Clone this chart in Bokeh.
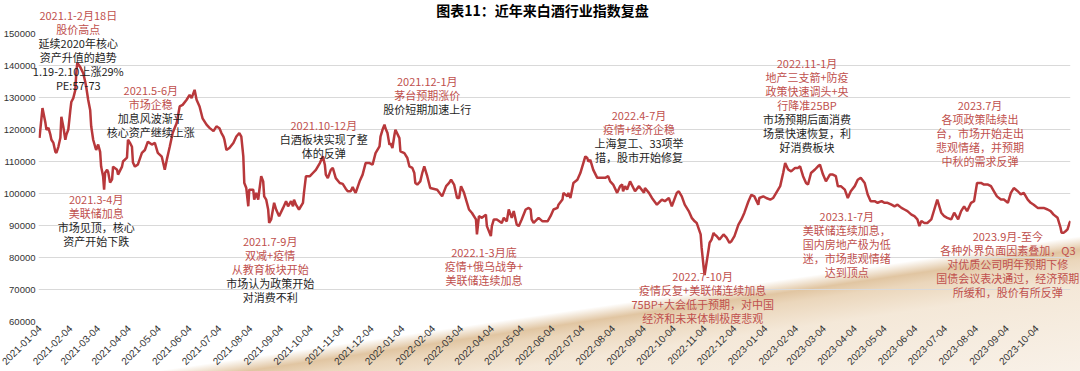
import math
import pandas as pd
from bokeh.plotting import figure
from bokeh.models import (Range1d, FixedTicker, DatetimeTickFormatter,
                          BasicTickFormatter, ColumnDataSource)
from bokeh.core.properties import value
from bokeh.embed import file_html
from bokeh.resources import INLINE

# ---------------- data ----------------
dates_2021 = [
    "2021-01-04", "2021-01-07", "2021-01-10", "2021-01-11", "2021-01-13", "2021-01-15", "2021-01-16", "2021-01-18",
    "2021-01-20", "2021-01-21", "2021-01-23", "2021-01-25", "2021-01-26", "2021-01-28", "2021-01-30", "2021-01-31",
    "2021-02-02", "2021-02-04", "2021-02-05", "2021-02-07", "2021-02-09", "2021-02-10", "2021-02-11", "2021-02-14",
    "2021-02-17", "2021-02-19", "2021-02-20", "2021-02-22", "2021-02-24", "2021-02-25", "2021-02-27",
    "2021-03-01", "2021-03-02", "2021-03-04", "2021-03-06", "2021-03-07", "2021-03-09", "2021-03-10", "2021-03-11",
    "2021-03-13", "2021-03-14", "2021-03-16", "2021-03-18", "2021-03-19", "2021-03-23", "2021-03-24", "2021-03-28",
    "2021-03-29",
    "2021-04-02", "2021-04-03", "2021-04-05", "2021-04-07", "2021-04-08", "2021-04-10", "2021-04-13", "2021-04-17",
    "2021-04-20", "2021-04-23", "2021-04-27", "2021-04-30",
    "2021-05-03", "2021-05-07", "2021-05-10", "2021-05-12", "2021-05-15", "2021-05-18", "2021-05-22", "2021-05-25",
    "2021-05-28",
    "2021-06-01", "2021-06-04", "2021-06-06", "2021-06-09", "2021-06-11", "2021-06-14", "2021-06-17", "2021-06-21",
    "2021-06-24", "2021-06-28",
    "2021-07-01", "2021-07-04", "2021-07-06", "2021-07-08", "2021-07-09", "2021-07-11", "2021-07-14", "2021-07-18",
    "2021-07-21", "2021-07-24", "2021-07-26", "2021-07-28", "2021-07-29", "2021-07-31",
    "2021-08-02", "2021-08-03", "2021-08-07", "2021-08-08", "2021-08-10", "2021-08-12", "2021-08-13", "2021-08-15",
    "2021-08-17", "2021-08-18", "2021-08-20", "2021-08-22", "2021-08-23", "2021-08-25", "2021-08-28", "2021-08-30",
    "2021-09-02", "2021-09-06", "2021-09-09", "2021-09-11", "2021-09-14", "2021-09-16", "2021-09-17", "2021-09-19",
    "2021-09-22", "2021-09-26", "2021-09-27", "2021-09-29",
    "2021-10-03", "2021-10-06", "2021-10-09", "2021-10-13", "2021-10-16", "2021-10-18", "2021-10-19", "2021-10-21",
    "2021-10-24", "2021-10-26", "2021-10-29",
    "2021-11-02", "2021-11-05", "2021-11-08", "2021-11-10", "2021-11-13", "2021-11-15", "2021-11-17", "2021-11-18",
    "2021-11-22", "2021-11-25", "2021-11-28",
    "2021-12-02", "2021-12-05", "2021-12-08", "2021-12-12", "2021-12-13", "2021-12-15", "2021-12-17", "2021-12-18",
    "2021-12-20", "2021-12-22", "2021-12-23", "2021-12-25", "2021-12-27", "2021-12-28",
]
values_2021 = [
    117400, 126700, 122000, 119900, 120500, 118300, 116800, 115800,
    113000, 112700, 114600, 117400, 124000, 120800, 116800, 118300,
    120000, 126000, 128600, 129800, 132300, 137600, 140800, 139500,
    137600, 134900, 133300, 129200, 126000, 121000, 116800,
    114600, 113600, 115300, 113000, 108400, 105300, 101200, 106500,
    107400, 106800, 103400, 104400, 108400, 107400, 105900, 108400,
    110000,
    111200, 116800, 115800, 114600, 109700, 108400, 109100, 112700,
    113600, 116200, 115300, 115800,
    112700, 111500, 107400, 110500, 114600, 119000, 122000, 127200,
    127700,
    129300, 130800, 129800, 132400, 129300, 127200, 123500, 121500,
    120500, 119500,
    121000, 120400, 118900, 117800, 116800, 113600, 114200, 115800,
    117800, 118900, 117800, 111600, 103300, 101700,
    96000, 101200, 101200, 98100, 100200, 98100, 100700, 105400,
    103800, 99100, 98100, 95000, 90800, 91900, 97100, 95000,
    92900, 95500, 97600, 96000, 97600, 96000, 98100, 96500,
    95000, 97100, 100200, 105400,
    105400, 106400, 107400, 109500, 111600, 109000, 105900, 104800,
    107400, 108000, 104800,
    103300, 103000, 101500, 100700, 100700, 102000, 100700, 100200,
    103800, 105900, 109500,
    109500, 109000, 112600, 114700, 117800, 119900, 121500, 120400,
    118900, 115200, 115700, 114200, 118300, 119900,
]

dates_2022 = [
    "2022-01-01", "2022-01-02", "2022-01-06", "2022-01-09", "2022-01-11", "2022-01-14", "2022-01-16", "2022-01-17",
    "2022-01-19", "2022-01-22", "2022-01-24", "2022-01-26", "2022-01-29",
    "2022-02-01", "2022-02-08", "2022-02-13", "2022-02-17", "2022-02-20", "2022-02-22", "2022-02-25", "2022-02-28",
    "2022-03-02", "2022-03-04", "2022-03-07", "2022-03-10", "2022-03-12", "2022-03-15", "2022-03-19", "2022-03-20",
    "2022-03-22", "2022-03-25", "2022-03-29", "2022-03-30",
    "2022-04-03", "2022-04-04", "2022-04-06", "2022-04-09", "2022-04-14", "2022-04-16", "2022-04-19", "2022-04-21",
    "2022-04-24", "2022-04-26", "2022-04-29",
    "2022-05-01", "2022-05-04", "2022-05-08", "2022-05-11", "2022-05-13", "2022-05-14", "2022-05-16", "2022-05-21",
    "2022-05-25", "2022-05-30",
    "2022-06-02", "2022-06-05", "2022-06-09", "2022-06-10", "2022-06-14", "2022-06-15", "2022-06-19", "2022-06-20",
    "2022-06-22", "2022-06-25", "2022-06-29",
    "2022-07-02", "2022-07-05", "2022-07-07", "2022-07-09", "2022-07-10", "2022-07-12", "2022-07-15", "2022-07-19",
    "2022-07-24", "2022-07-27", "2022-07-30",
    "2022-08-01", "2022-08-04", "2022-08-08", "2022-08-11", "2022-08-13", "2022-08-14", "2022-08-16", "2022-08-18",
    "2022-08-21", "2022-08-26", "2022-08-30",
    "2022-09-04", "2022-09-05", "2022-09-09", "2022-09-12", "2022-09-17", "2022-09-22", "2022-09-25", "2022-09-29",
    "2022-10-02", "2022-10-07", "2022-10-09", "2022-10-12", "2022-10-15", "2022-10-19", "2022-10-22", "2022-10-25",
    "2022-10-27", "2022-10-31",
    "2022-11-01", "2022-11-03", "2022-11-04", "2022-11-06", "2022-11-08", "2022-11-09", "2022-11-11", "2022-11-13",
    "2022-11-14", "2022-11-16", "2022-11-19", "2022-11-23", "2022-11-26", "2022-11-29",
    "2022-12-01", "2022-12-04", "2022-12-08", "2022-12-11", "2022-12-14", "2022-12-18", "2022-12-21", "2022-12-24",
    "2022-12-28", "2022-12-29",
]
values_2022 = [
    117300, 113200, 112600, 111100, 108500, 108000, 106400, 103300,
    102800, 103800, 106400, 108500, 105400,
    101700, 101200, 99100, 102300, 103300, 104300, 102800, 98600,
    98600, 102300, 100200, 97100, 95000, 93900, 91900, 87200,
    92900, 92400, 93400, 89800,
    86700, 89800, 91900, 91900, 90800, 92400, 91300, 95000,
    92400, 94500, 90300,
    89800, 91900, 95000, 95500, 95000, 91900, 90800, 92400,
    91300, 91300,
    92900, 95000, 95500, 96500, 98100, 100200, 99100, 100200,
    98600, 103300, 104300,
    106400, 109500, 111600, 111100, 110000, 110500, 107400, 104900,
    104900, 104900, 105400,
    103800, 102800, 100200, 102300, 102800, 100700, 102300, 101200,
    103800, 100700, 102300,
    100200, 101700, 100200, 98600, 96500, 98100, 97600, 98600,
    96000, 100200, 100700, 99100, 96500, 94500, 92400, 91300,
    90800, 87200,
    83000, 77000, 74500, 78500, 82500, 84600, 85600, 87700,
    87200, 86700, 85600, 87200, 86200, 84600,
    85100, 86700, 90300, 91900, 94000, 97500, 99600, 99100,
    96500, 98600,
]

dates_2023 = [
    "2023-01-02", "2023-01-05", "2023-01-09", "2023-01-12", "2023-01-15", "2023-01-19", "2023-01-22", "2023-01-24",
    "2023-01-27", "2023-01-30",
    "2023-02-03", "2023-02-06", "2023-02-08", "2023-02-11", "2023-02-14", "2023-02-16", "2023-02-19", "2023-02-23",
    "2023-02-26", "2023-02-28",
    "2023-03-03", "2023-03-06", "2023-03-10", "2023-03-13", "2023-03-16", "2023-03-18", "2023-03-21", "2023-03-25",
    "2023-03-28", "2023-03-31",
    "2023-04-04", "2023-04-07", "2023-04-10", "2023-04-14", "2023-04-17", "2023-04-20", "2023-04-24", "2023-04-27",
    "2023-05-01", "2023-05-04", "2023-05-07", "2023-05-11", "2023-05-14", "2023-05-17", "2023-05-21", "2023-05-24",
    "2023-05-27", "2023-05-31",
    "2023-06-03", "2023-06-06", "2023-06-08", "2023-06-10", "2023-06-13", "2023-06-16", "2023-06-20", "2023-06-23",
    "2023-06-26", "2023-06-30",
    "2023-07-03", "2023-07-06", "2023-07-10", "2023-07-13", "2023-07-17", "2023-07-20", "2023-07-23", "2023-07-26",
    "2023-07-30",
    "2023-08-02", "2023-08-05", "2023-08-09", "2023-08-12", "2023-08-16", "2023-08-19", "2023-08-22", "2023-08-25",
    "2023-08-29",
    "2023-09-01", "2023-09-05", "2023-09-08", "2023-09-11", "2023-09-15", "2023-09-18", "2023-09-21", "2023-09-25",
    "2023-09-28",
    "2023-10-01", "2023-10-05", "2023-10-08", "2023-10-11", "2023-10-15", "2023-10-18", "2023-10-21", "2023-10-25",
    "2023-10-28", "2023-10-29", "2023-10-31",
    "2023-11-02", "2023-11-04", "2023-11-06", "2023-11-07",
]
values_2023 = [
    99100, 98600, 98100, 98600, 100200, 102300, 106400, 109500,
    107500, 106900,
    108000, 108000, 108500, 105400, 103300, 102800, 106400, 107500,
    108500, 109000,
    106000, 103800, 105900, 105900, 105400, 102300, 102300, 101200,
    98600, 100700,
    102300, 104300, 104900, 103300, 99700, 97600, 97600, 97100,
    97600, 97100, 97100, 96500, 96000, 96500, 95500, 95000,
    94500, 93400,
    92900, 91900, 89800, 91400, 90800, 90800, 91900, 95000,
    98100, 94000,
    92900, 92400, 91900, 94000, 91900, 94500, 96000, 94500,
    97100,
    97600, 103300, 103300, 102800, 102800, 102300, 100700, 99100,
    98100,
    98100, 97100, 100200, 101700, 100700, 99700, 100200, 98100,
    97100,
    96500, 95500, 95500, 95500, 95000, 94500, 93400, 92400,
    89300, 87700, 87700,
    88200, 88800, 90800, 91400,
]

x_ticks = [
    "2021-01-04", "2021-02-04", "2021-03-04", "2021-04-04", "2021-05-04", "2021-06-04",
    "2021-07-04", "2021-08-04", "2021-09-04", "2021-10-04", "2021-11-04", "2021-12-04",
    "2022-01-04", "2022-02-04", "2022-03-04", "2022-04-04", "2022-05-04", "2022-06-04",
    "2022-07-04", "2022-08-04", "2022-09-04", "2022-10-04", "2022-11-04", "2022-12-04",
    "2023-01-04", "2023-02-04", "2023-03-04", "2023-04-04", "2023-05-04", "2023-06-04",
    "2023-07-04", "2023-08-04", "2023-09-04", "2023-10-04",
]
y_ticks = [60000, 70000, 80000, 90000, 100000, 110000, 120000, 130000, 140000, 150000]

title_text = "图表11：近年来白酒行业指数复盘"

RED = "#C0504D"
BLK = "#1E1E1E"

# annotation blocks: anchor date, value of first line, lines (text, colour)
notes = [
    ("2021-02-12", 155700, [("2021.1-2月18日", RED), ("股价高点", RED), ("延续2020年核心", BLK),
                            ("资产升值的趋势", BLK), ("1.19-2.10上涨29%", BLK), ("PE:57-73", BLK)]),
    ("2021-04-26", 132360, [("2021.5-6月", RED), ("市场企稳", RED), ("加息风波渐平", BLK),
                            ("核心资产继续上涨", BLK)]),
    ("2021-03-02", 98400, [("2021.3-4月", RED), ("美联储加息", RED), ("市场见顶，核心", BLK),
                           ("资产开始下跌", BLK)]),
    ("2021-08-24", 85010, [("2021.7-9月", RED), ("双减+疫情", RED), ("从教育板块开始", RED),
                           ("市场认为政策开始", BLK), ("对消费不利", BLK)]),
    ("2021-10-17", 121460, [("2021.10-12月", RED), ("白酒板块实现了整", BLK), ("体的反弹", BLK)]),
    ("2022-01-29", 135160, [("2021.12-1月", RED), ("茅台预期涨价", RED), ("股价短期加速上行", BLK)]),
    ("2022-03-27", 81590, [("2022.1-3月底", RED), ("疫情+俄乌战争+", RED), ("美联储连续加息", RED)]),
    ("2022-08-30", 124570, [("2022.4-7月", RED), ("疫情+经济企稳", RED), ("上海复工、33项举", BLK),
                            ("措，股市开始修复", BLK)]),
    ("2023-02-15", 140770, [("2022.11-1月", RED), ("地产三支箭+防疫", RED), ("政策快速调头+央", RED),
                            ("行降准25BP", RED), ("市场预期后面消费", BLK), ("场景快速恢复，利", BLK),
                            ("好消费板块", BLK)]),
    ("2023-08-08", 127690, [("2023.7月", RED), ("各项政策陆续出", RED), ("台，市场开始走出", RED),
                            ("悲观情绪，并预期", RED), ("中秋的需求反弹", RED)]),
    ("2023-03-27", 93110, [("2023.1-7月", RED), ("美联储连续加息，", RED), ("国内房地产极为低", RED),
                           ("迷，市场悲观情绪", RED), ("达到顶点", RED)]),
    ("2023-09-05", 86570, [("2023.9月-至今", RED), ("各种外界负面因素叠加，Q3", RED),
                           ("对优质公司明年预期下修", RED), ("国债会议表决通过，经济预期", RED),
                           ("所缓和，股价有所反弹", RED)]),
    ("2022-11-02", 74110, [("2022.7-10月", RED), ("疫情反复+美联储连续加息", RED),
                           ("75BP+大会低于预期，对中国", RED), ("经济和未来体制极度悲观", RED)]),
]

# ---------------- figure ----------------
def ms(s):
    return pd.Timestamp(s).value // 10**6

dates = pd.to_datetime(dates_2021 + dates_2022 + dates_2023)
values = values_2021 + values_2022 + values_2023

W, H = 1080, 371
X0, X1 = ms("2021-01-03"), ms("2023-11-07")
Y0, Y1 = 60000, 150000

p = figure(width=W, height=H, x_axis_type="datetime",
           output_backend="svg", toolbar_location=None,
           x_range=Range1d(X0, X1), y_range=Range1d(Y0, Y1),
           min_border_left=35, min_border_right=10,
           min_border_top=33, min_border_bottom=49)
p.outline_line_color = None
p.background_fill_alpha = 0
p.border_fill_alpha = 0
# decorative warm swoosh of the report page, behind the chart
p.styles = {
    "background-image": ("linear-gradient(171.7deg, rgba(255,255,255,0) 74.5%, "
                         "rgba(200,150,85,0.55) 77%, rgba(210,165,105,0.45) 79%, "
                         "rgba(228,198,158,0.4) 84%, rgba(240,224,204,0.45) 100%)"),
}

p.xgrid.visible = False
p.ygrid.grid_line_color = "#D9D9D9"
p.ygrid.grid_line_width = 1

p.yaxis.ticker = FixedTicker(ticks=y_ticks)
p.yaxis.formatter = BasicTickFormatter(use_scientific=False)
p.yaxis.axis_line_color = None
p.yaxis.major_tick_line_color = None
p.yaxis.minor_tick_line_color = None
p.yaxis.major_tick_out = 0
p.yaxis.major_tick_in = 0
p.yaxis.minor_tick_out = 0
p.yaxis.major_label_text_font = "Liberation Sans"
p.yaxis.major_label_text_font_size = "9.5px"
p.yaxis.major_label_text_color = "#333333"
p.yaxis.major_label_standoff = 3

p.xaxis.ticker = FixedTicker(ticks=[ms(t) for t in x_ticks])
fmt = "%Y-%m-%d"
p.xaxis.formatter = DatetimeTickFormatter(days=fmt, months=fmt, years=fmt, hours=fmt,
                                          context=None)
p.xaxis.axis_line_color = None
p.xaxis.major_tick_line_color = None
p.xaxis.minor_tick_line_color = None
p.xaxis.major_tick_out = 0
p.xaxis.major_tick_in = 0
p.xaxis.minor_tick_out = 0
p.xaxis.major_label_orientation = math.pi / 4
p.xaxis.major_label_text_font = "Liberation Sans"
p.xaxis.major_label_text_font_size = "10px"
p.xaxis.major_label_text_color = "#333333"
p.xaxis.major_label_standoff = 5

p.line(dates, values, line_color="#B8383B", line_width=2.5)

# annotation texts, anchored at a date / value, laid out line by line (14 px apart)
rows = dict(x=[], y=[], text=[], color=[], dy=[])
for d, v0, lines in notes:
    for i, (txt, col) in enumerate(lines):
        rows["x"].append(ms(d))
        rows["y"].append(v0)
        rows["text"].append(txt)
        rows["color"].append(col)
        rows["dy"].append(i * 14)
p.text(x="x", y="y", text="text", source=ColumnDataSource(rows),
       text_color="color", y_offset="dy", text_align="center", text_baseline="middle",
       text_font=value("Noto Sans CJK SC"), text_font_size="11px", level="overlay")

# chart title, centred on the page above the plot area
p.text(x=[(X0 + X1) / 2], y=[Y1], text=[title_text], x_offset=-12, y_offset=-24,
       text_align="center", text_baseline="middle", text_color="#000000",
       text_font=value("Noto Sans CJK SC"), text_font_size="14px",
       text_font_style="bold", level="overlay")

open("out.html", "w").write(file_html(p, INLINE))
